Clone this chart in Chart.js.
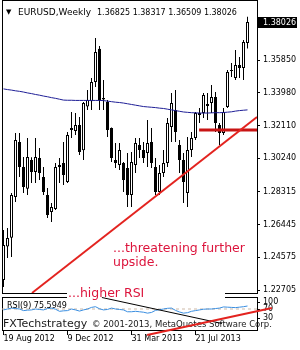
<!DOCTYPE html>
<html>
<head>
    <title>EURUSD Weekly</title>
    <script src="https://cdn.jsdelivr.net/npm/chart.js"></script>
    <style>
        html, body { margin: 0; padding: 0; background: #fff; overflow: hidden; }
        #wrap { position: relative; width: 300px; height: 350px; }
        #wrap canvas { position: absolute; left: 0; top: 0; }
    </style>
</head>
<body>
    <div id="wrap">
        <canvas id="priceChart" width="300" height="350"></canvas>
        <canvas id="rsiChart" width="300" height="350"></canvas>
    </div>

    <script>
        // weekly bars, 19 Aug 2012 .. 20 Oct 2013
        const opens = [1.2328, 1.2520, 1.2570, 1.2802, 1.3116, 1.2974, 1.2850, 1.3014, 1.2945, 1.3025,
            1.2916, 1.2814, 1.2716, 1.2734, 1.2974, 1.2996, 1.2888, 1.3185, 1.3180, 1.3214,
            1.3070, 1.3320, 1.3350, 1.3459, 1.3650, 1.3368, 1.3345, 1.3196, 1.3014, 1.2985,
            1.2996, 1.2968, 1.2814, 1.2985, 1.3099, 1.3071, 1.3054, 1.3116, 1.2974, 1.2831,
            1.2939, 1.2996, 1.3202, 1.3299, 1.3099, 1.3014, 1.2825, 1.3071, 1.3139, 1.3271,
            1.3282, 1.3334, 1.3339, 1.3374, 1.3214, 1.3168, 1.3316, 1.3522, 1.3482, 1.3556,
            1.3539, 1.36825];
        const highs = [1.2614, 1.2625, 1.2825, 1.3168, 1.3168, 1.3031, 1.3139, 1.3030, 1.3139, 1.3082,
            1.2974, 1.2854, 1.2768, 1.2996, 1.3025, 1.3116, 1.3174, 1.3288, 1.3282, 1.3259,
            1.3345, 1.3414, 1.3482, 1.3711, 1.3665, 1.3471, 1.3356, 1.3200, 1.3111, 1.3111,
            1.3002, 1.3054, 1.3059, 1.3139, 1.3139, 1.3116, 1.3242, 1.3196, 1.3025, 1.2985,
            1.3071, 1.3254, 1.3396, 1.3414, 1.3128, 1.3054, 1.3145, 1.3174, 1.3288, 1.3311,
            1.3396, 1.3396, 1.3442, 1.3402, 1.3225, 1.3311, 1.3528, 1.3568, 1.3642, 1.3602,
            1.3699, 1.38317];
        const lows = [1.2288, 1.2454, 1.2459, 1.2774, 1.2916, 1.2825, 1.2814, 1.2882, 1.2882, 1.2899,
            1.2814, 1.2682, 1.2659, 1.2728, 1.2882, 1.2871, 1.2882, 1.3139, 1.3156, 1.3042,
            1.3014, 1.3299, 1.3299, 1.3431, 1.3299, 1.3299, 1.3145, 1.3002, 1.2968, 1.2956,
            1.2831, 1.2745, 1.2745, 1.2939, 1.3025, 1.2996, 1.2974, 1.2968, 1.2814, 1.2814,
            1.2916, 1.2974, 1.3116, 1.3116, 1.2939, 1.2768, 1.2745, 1.3031, 1.3128, 1.3225,
            1.3254, 1.3242, 1.3282, 1.3174, 1.3099, 1.3156, 1.3311, 1.3488, 1.3471, 1.3482,
            1.3471, 1.36509];
        const closes = [1.2528, 1.2568, 1.2814, 1.3128, 1.2974, 1.2859, 1.3031, 1.2945, 1.3031, 1.2939,
            1.2831, 1.2699, 1.2745, 1.2974, 1.2985, 1.2928, 1.3156, 1.3196, 1.3214, 1.3059,
            1.3339, 1.3356, 1.3459, 1.3631, 1.3356, 1.3360, 1.3185, 1.3025, 1.2996, 1.3071,
            1.2899, 1.2814, 1.3002, 1.3111, 1.3071, 1.3025, 1.3111, 1.2996, 1.2831, 1.2939,
            1.2996, 1.3225, 1.3339, 1.3174, 1.3014, 1.2888, 1.3071, 1.3139, 1.3282, 1.3282,
            1.3385, 1.3322, 1.3374, 1.3225, 1.3168, 1.3288, 1.3516, 1.3528, 1.3556, 1.3539,
            1.3688, 1.38026];
        const movingAvg = [1.3420, 1.3416, 1.3413, 1.3409, 1.3406, 1.3402, 1.3397, 1.3393, 1.3388, 1.3384,
            1.3379, 1.3375, 1.3370, 1.3366, 1.3361, 1.3356, 1.3355, 1.3355, 1.3354, 1.3354,
            1.3354, 1.3354, 1.3354, 1.3354, 1.3354, 1.3353, 1.3350, 1.3347, 1.3344, 1.3342,
            1.3339, 1.3335, 1.3331, 1.3327, 1.3323, 1.3319, 1.3317, 1.3315, 1.3313, 1.3310,
            1.3308, 1.3304, 1.3300, 1.3296, 1.3292, 1.3288, 1.3286, 1.3284, 1.3283, 1.3282,
            1.3282, 1.3282, 1.3283, 1.3284, 1.3284, 1.3285, 1.3287, 1.3289, 1.3293, 1.3296,
            1.3298, 1.3300];
        const rsi = [66, 70, 74, 72, 70, 63, 65, 66, 70, 68,
            66, 72, 74, 69, 60, 62, 63, 70, 66, 61,
            66, 70, 77, 80, 71, 66, 68, 74, 70, 68,
            66, 58, 58, 60, 58, 56, 52, 55, 64, 67,
            70, 73, 74, 64, 57, 52, 54, 60, 63, 66,
            69, 70, 70, 72, 74, 79, 78, 77, 76, 78,
            80, 83];

        const priceTicks = [1.22705, 1.24575, 1.26445, 1.28315, 1.30240, 1.32110, 1.33980, 1.35850, 1.37775];
        const rsiTicks = [30, 70, 100];
        const rsiLevels = [70];
        const dateIndex = [0, 16, 32, 48];
        const dateLabels = ['19 Aug 2012', '9 Dec 2012', '31 Mar 2013', '21 Jul 2013'];

        // hand drawn objects (bar index, price / rsi value)
        const trendX = [7.125, 63.375], trendY = [1.2254, 1.3259];
        const supportX = [48.9, 63.375], supportY = [1.3185, 1.3185];
        const rsiFallX = [24.6, 54.6], rsiFallY = [120, 6.9];
        const rsiRiseX = [35.9, 67.1], rsiRiseY = [-43, 74.4];

        const xMin = -0.375, xMax = 63.375;
        const pts = (xs, ys) => xs.map((v, i) => ({x: v, y: ys[i]}));

        Chart.defaults.font.family = '"DejaVu Sans", sans-serif';
        Chart.defaults.font.size = 8;
        Chart.defaults.color = '#000';

        // black frame round each window
        const framePlugin = {
            id: 'frame',
            beforeDatasetsDraw(chart) {
                const {ctx, chartArea: a} = chart;
                ctx.save();
                ctx.strokeStyle = '#000';
                ctx.lineWidth = 1;
                ctx.strokeRect(a.left + 0.5, a.top + 0.5, a.right - a.left, a.bottom - a.top);
                ctx.restore();
            }
        };

        const priceNotes = {
            id: 'priceNotes',
            afterDraw(chart) {
                const {ctx, chartArea: a, scales: {y}} = chart;
                const last = closes.length - 1;
                ctx.save();
                ctx.fillStyle = '#000';
                ctx.font = '7px "DejaVu Sans"';
                ctx.fillText('\u25BC', a.left + 4, 13.5);
                ctx.font = '9px "DejaVu Sans"';
                ctx.fillText('EURUSD,Weekly', a.left + 16, 14.5);
                ctx.font = '8px "DejaVu Sans"';
                const ohlc = [opens[last], highs[last], lows[last], closes[last]].map(v => v.toFixed(5)).join(' ');
                ctx.fillText(ohlc, a.left + 95, 14.5);

                // current price marker
                const py = Math.round(y.getPixelForValue(closes[last]));
                ctx.fillRect(a.right + 1, py - 5, 39, 11);
                ctx.fillStyle = '#fff';
                ctx.textBaseline = 'middle';
                ctx.fillText(closes[last].toFixed(5), a.right + 6, py + 0.5);

                ctx.textBaseline = 'alphabetic';
                ctx.fillStyle = '#dc143c';
                ctx.font = '12.5px "DejaVu Sans"';
                ctx.fillText('...threatening further', a.left + 111, 252);
                ctx.fillText('upside.', a.left + 111, 266);
                ctx.restore();
            }
        };

        const rsiNotes = {
            id: 'rsiNotes',
            beforeDatasetsDraw(chart) {
                const {ctx, chartArea: a} = chart;
                ctx.save();
                ctx.fillStyle = '#fff';
                ctx.fillRect(a.left + 65, a.top - 7, 158, 8);
                ctx.fillStyle = '#1a1a1a';
                ctx.font = '11px "DejaVu Sans"';
                ctx.fillText('FXTechstrategy', a.left + 1, a.top + 30);
                ctx.font = '8.5px "DejaVu Sans"';
                ctx.fillText('\u00A9 2001-2013, MetaQuotes Software Corp.', a.left + 90, a.top + 30);
                ctx.restore();
            },
            afterDraw(chart) {
                const {ctx, chartArea: a} = chart;
                ctx.save();
                ctx.fillStyle = '#000';
                ctx.font = '8px "DejaVu Sans"';
                ctx.fillText('RSI(9) 75.5949', a.left + 5, a.top + 11);
                ctx.fillStyle = '#dc143c';
                ctx.font = '12.5px "DejaVu Sans"';
                ctx.fillText('...higher RSI', a.left + 66, a.top);
                ctx.restore();
            }
        };

        const common = {
            responsive: false,
            animation: false,
            events: [],
            devicePixelRatio: 1,
            plugins: { legend: { display: false }, tooltip: { enabled: false } }
        };

        // price window
        new Chart(document.getElementById('priceChart'), {
            type: 'bar',
            data: {
                datasets: [
                    { type: 'line', data: pts(trendX, trendY), borderColor: '#e3231f', borderWidth: 2, pointRadius: 0, order: 0 },
                    { type: 'line', data: pts(supportX, supportY), borderColor: '#c81414', borderWidth: 3, pointRadius: 0, order: 0 },
                    { type: 'line', data: movingAvg.map((v, i) => ({x: i, y: v})), borderColor: '#1e1e96', borderWidth: 1, pointRadius: 0, order: 1 },
                    {
                        data: opens.map((v, i) => ({x: i, y: [v, closes[i]]})),
                        barThickness: 3, grouped: false, borderWidth: 1, borderColor: '#000',
                        borderSkipped: false, minBarLength: 1, inflateAmount: 0,
                        backgroundColor: c => closes[c.dataIndex] >= opens[c.dataIndex] ? '#fff' : '#000',
                        order: 2
                    },
                    {
                        data: lows.map((v, i) => ({x: i, y: [v, highs[i]]})),
                        barThickness: 1, grouped: false, borderWidth: 0, inflateAmount: 0,
                        backgroundColor: '#000', order: 3
                    }
                ]
            },
            options: {
                ...common,
                layout: { padding: { left: 2, top: 0, right: 0, bottom: 57 }, autoPadding: false },
                scales: {
                    x: { type: 'linear', display: false, min: xMin, max: xMax, offset: false },
                    y: {
                        position: 'right', min: 1.22536, max: 1.39279,
                        grid: { drawOnChartArea: false, tickLength: 3, color: '#000' },
                        border: { display: false },
                        afterBuildTicks: s => { s.ticks = priceTicks.map(v => ({value: v})); },
                        afterFit: s => { s.width = 43; s.paddingTop = 0; s.paddingBottom = 0; },
                        ticks: { padding: 3, autoSkip: false, callback: v => v.toFixed(5) }
                    }
                }
            },
            plugins: [framePlugin, priceNotes]
        });

        // RSI window
        new Chart(document.getElementById('rsiChart'), {
            type: 'line',
            data: {
                datasets: [
                    { data: pts(rsiRiseX, rsiRiseY), borderColor: '#e3231f', borderWidth: 2, clip: false },
                    { data: pts(rsiFallX, rsiFallY), borderColor: '#000', borderWidth: 1, clip: false },
                    { data: rsi.map((v, i) => ({x: i, y: v})), borderColor: '#3a8ee0', borderWidth: 1 },
                    ...rsiLevels.map(lv => ({
                        data: [{x: xMin, y: lv}, {x: xMax, y: lv}],
                        borderColor: '#cdb9a8', borderWidth: 1, borderDash: [3, 3]
                    }))
                ]
            },
            options: {
                ...common,
                elements: { point: { radius: 0 }, line: { tension: 0 } },
                layout: { padding: { left: 2, top: 297, right: 0, bottom: 0 }, autoPadding: false },
                scales: {
                    x: {
                        type: 'linear', min: xMin, max: xMax, offset: false,
                        grid: { drawOnChartArea: false, tickLength: 5, color: '#000' },
                        border: { display: false },
                        afterBuildTicks: s => { s.ticks = dateIndex.map(v => ({value: v})); },
                        afterFit: s => { s.height = 20; s.paddingLeft = 0; s.paddingRight = 0; },
                        ticks: {
                            align: 'start', padding: -1, maxRotation: 0, autoSkip: false,
                            callback: v => dateLabels[dateIndex.indexOf(v)]
                        }
                    },
                    y: {
                        position: 'right', min: -21.35, max: 122.2,
                        grid: { drawOnChartArea: false, tickLength: 3, color: '#000' },
                        border: { display: false },
                        afterBuildTicks: s => { s.ticks = rsiTicks.map(v => ({value: v})); },
                        afterFit: s => { s.width = 43; s.paddingTop = 0; s.paddingBottom = 0; },
                        ticks: { padding: 3, autoSkip: false }
                    }
                }
            },
            plugins: [framePlugin, rsiNotes]
        });
    </script>
</body>
</html>
